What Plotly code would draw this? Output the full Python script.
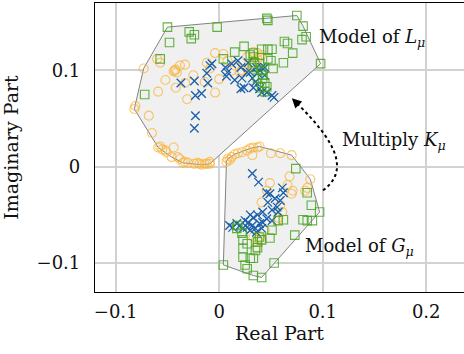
import plotly.graph_objects as go

# ---------------- data: upper group (model of L_mu) ----------------
L_circ_re = [-0.073, -0.060, -0.057, -0.038, -0.033, -0.043, -0.041, -0.042, -0.044, -0.052,
             -0.059, -0.042, -0.033, -0.025, -0.031, -0.014, -0.004, -0.009, -0.012, -0.004,
             0.004, 0.000, -0.081, -0.082, -0.068, -0.065, -0.059, -0.055, -0.057, -0.051,
             -0.052, -0.044, -0.046, -0.040, -0.038, -0.035, -0.033, -0.030, -0.024, -0.021,
             -0.019, -0.017, -0.014, -0.012, -0.009, -0.009, 0.033, 0.041, 0.027, 0.032,
             0.027, 0.022, 0.015, 0.008, 0.037, 0.029, 0.020, 0.012, 0.037, 0.039]
L_circ_im = [0.102, 0.112, 0.108, 0.105, 0.106, 0.100, 0.098, 0.101, 0.099, 0.090,
             0.078, 0.082, 0.087, 0.095, 0.070, 0.088, 0.077, 0.102, 0.108, 0.118,
             0.117, 0.091, 0.063, 0.060, 0.053, 0.035, 0.020, 0.018, 0.021, 0.015,
             0.017, 0.020, 0.010, 0.010, 0.008, 0.004, 0.005, 0.004, 0.003, 0.004,
             0.003, 0.002, 0.003, 0.003, 0.003, 0.005, 0.119, 0.116, 0.114, 0.107,
             0.102, 0.100, 0.105, 0.110, 0.112, 0.107, 0.098, 0.100, 0.118, 0.114]

L_x_re = [-0.037, -0.024, -0.011, -0.012, -0.009, -0.007, -0.023, -0.017, -0.023, -0.024,
          0.006, 0.007, 0.012, 0.015, 0.021, 0.024, 0.021, 0.027, 0.032, 0.035,
          0.037, 0.041, 0.044, 0.036, 0.028, 0.046, 0.051, 0.053, 0.033, 0.018,
          0.039, 0.008, 0.022, 0.041, 0.030, 0.044]
L_x_im = [0.087, 0.089, 0.087, 0.097, 0.105, 0.107, 0.074, 0.076, 0.053, 0.040,
          0.103, 0.094, 0.107, 0.090, 0.081, 0.082, 0.103, 0.098, 0.092, 0.088,
          0.097, 0.103, 0.103, 0.103, 0.108, 0.077, 0.074, 0.072, 0.082, 0.110,
          0.081, 0.098, 0.092, 0.077, 0.098, 0.095]

L_sq_re = [-0.050, -0.029, -0.024, -0.027, -0.048, -0.002, 0.046, 0.047, 0.075, 0.081,
           0.084, 0.080, 0.063, 0.066, 0.071, 0.062, 0.098, 0.024, 0.015, 0.041,
           0.047, 0.051, 0.033, 0.033, 0.050, 0.052, 0.039, 0.004, -0.057, -0.072,
           0.042, 0.044, 0.041, 0.044, 0.046, 0.042, 0.037, 0.041, 0.032, 0.034,
           0.030, 0.047]
L_sq_im = [0.145, 0.140, 0.137, 0.133, 0.129, 0.145, 0.154, 0.152, 0.157, 0.146,
           0.135, 0.132, 0.130, 0.128, 0.118, 0.108, 0.107, 0.125, 0.119, 0.122,
           0.122, 0.122, 0.118, 0.114, 0.110, 0.102, 0.107, 0.112, 0.112, 0.075,
           0.092, 0.087, 0.082, 0.078, 0.083, 0.095, 0.092, 0.100, 0.103, 0.108,
           0.116, 0.112]

# ---------------- data: lower group (model of G_mu) ----------------
G_circ_re = [0.007, 0.008, 0.012, 0.015, 0.018, 0.022, 0.027, 0.030, 0.033, 0.037,
             0.039, 0.032, 0.050, 0.059, 0.070, 0.068, 0.088, 0.066, 0.070, 0.071,
             0.049, 0.046, 0.041, 0.059, 0.061, 0.057, 0.056, 0.044, 0.039, 0.041,
             0.037, 0.036, 0.033, 0.085, 0.083, 0.010]
G_circ_im = [0.005, 0.008, 0.010, 0.013, 0.014, 0.015, 0.017, 0.019, 0.020, 0.020,
             0.021, 0.012, 0.014, 0.014, 0.012, -0.010, -0.013, -0.019, -0.028, -0.025,
             -0.017, -0.025, -0.037, -0.040, -0.047, -0.053, -0.056, -0.066, -0.073, -0.076,
             -0.076, -0.084, -0.073, -0.022, -0.025, 0.007]

G_x_re = [0.032, 0.038, 0.046, 0.049, 0.061, 0.062, 0.054, 0.059, 0.047, 0.056,
          0.051, 0.057, 0.030, 0.033, 0.037, 0.042, 0.046, 0.051, 0.025, 0.010,
          0.013, 0.017, 0.020, 0.027, 0.032, 0.035, 0.039, 0.042, 0.028, 0.023,
          0.030, 0.036, 0.041]
G_x_im = [-0.007, -0.016, -0.027, -0.028, -0.022, -0.027, -0.033, -0.035, -0.037, -0.042,
          -0.045, -0.047, -0.050, -0.053, -0.050, -0.047, -0.054, -0.056, -0.056, -0.061,
          -0.063, -0.059, -0.061, -0.063, -0.061, -0.064, -0.059, -0.058, -0.058, -0.064,
          -0.066, -0.068, -0.064]

G_sq_re = [0.085, 0.089, 0.074, 0.097, 0.090, 0.085, 0.081, 0.073, 0.053, 0.041,
           0.033, 0.027, 0.025, 0.004, 0.023, 0.023, 0.030, 0.033, 0.035, 0.037,
           0.049, 0.051, 0.041, 0.023, 0.027, 0.022, 0.017, 0.018, 0.057, 0.062,
           0.039, 0.037]
G_sq_im = [-0.027, -0.040, -0.002, -0.047, -0.056, -0.056, -0.055, -0.071, -0.100, -0.115,
           -0.113, -0.106, -0.102, -0.102, -0.094, -0.085, -0.095, -0.095, -0.087, -0.084,
           -0.074, -0.066, -0.076, -0.076, -0.080, -0.069, -0.064, -0.061, -0.056, -0.055,
           -0.073, -0.078]

x_ticks = [-0.1, 0, 0.1, 0.2]
x_tick_labels = ["−0.1", "0", "0.1", "0.2"]
y_ticks = [-0.1, 0, 0.1]
y_tick_labels = ["−0.1", "0", "0.1"]

ORANGE = "rgba(250,180,60,0.75)"
BLUE = "rgb(25,95,170)"
GREEN = "rgba(70,165,35,0.85)"
FONT = "DejaVu Serif"


def convex_hull(xs, ys):
    pts = sorted(set(zip(xs, ys)))
    if len(pts) < 3:
        return pts

    def cross(o, a, b):
        return (a[0] - o[0]) * (b[1] - o[1]) - (a[1] - o[1]) * (b[0] - o[0])

    lower, upper = [], []
    for p in pts:
        while len(lower) >= 2 and cross(lower[-2], lower[-1], p) <= 0:
            lower.pop()
        lower.append(p)
    for p in reversed(pts):
        while len(upper) >= 2 and cross(upper[-2], upper[-1], p) <= 0:
            upper.pop()
        upper.append(p)
    return lower[:-1] + upper[:-1]


fig = go.Figure()

for xs_list, ys_list in [((L_circ_re, L_x_re, L_sq_re), (L_circ_im, L_x_im, L_sq_im)),
                         ((G_circ_re, G_x_re, G_sq_re), (G_circ_im, G_x_im, G_sq_im))]:
    ax_ = sum(xs_list, [])
    ay_ = sum(ys_list, [])
    hull = convex_hull(ax_, ay_)
    hx = [p[0] for p in hull] + [hull[0][0]]
    hy = [p[1] for p in hull] + [hull[0][1]]
    fig.add_trace(go.Scatter(x=hx, y=hy, mode="lines", fill="toself",
                             fillcolor="rgb(240,240,240)",
                             line=dict(color="rgb(130,130,130)", width=1),
                             hoverinfo="skip", showlegend=False))

for re, im in [(L_circ_re, L_circ_im), (G_circ_re, G_circ_im)]:
    fig.add_trace(go.Scatter(x=re, y=im, mode="markers", showlegend=False,
                             marker=dict(symbol="circle-open", size=9,
                                         color=ORANGE, line=dict(width=1.1, color=ORANGE))))
for re, im in [(L_x_re, L_x_im), (G_x_re, G_x_im)]:
    fig.add_trace(go.Scatter(x=re, y=im, mode="markers", showlegend=False,
                             marker=dict(symbol="x-thin-open", size=8.5,
                                         color=BLUE, line=dict(width=1.3, color=BLUE))))
for re, im in [(L_sq_re, L_sq_im), (G_sq_re, G_sq_im)]:
    fig.add_trace(go.Scatter(x=re, y=im, mode="markers", showlegend=False,
                             marker=dict(symbol="square-open", size=8.5,
                                         color=GREEN, line=dict(width=1.1, color=GREEN))))

# dotted curved arrow (Multiply K_mu)
fig.add_shape(type="path", xref="x", yref="y",
              path="M 0.1002,-0.0245 C 0.1340,0.0015 0.0973,0.0420 0.0723,0.0690",
              line=dict(color="black", width=2, dash="dot"))
fig.add_annotation(x=0.0702, y=0.0712, xref="x", yref="y", text="", showarrow=True,
                   ax=8, ay=8, arrowhead=2, arrowsize=1.3, arrowwidth=1.5,
                   arrowcolor="black")

txt_font = dict(family=FONT, size=18, color="#111")
fig.add_annotation(x=0.0944, y=0.1333, xref="x", yref="y", xanchor="left", yanchor="middle",
                   text="Model of <i>L</i><sub><i>μ</i></sub>", showarrow=False, font=txt_font)
fig.add_annotation(x=0.1166, y=0.0264, xref="x", yref="y", xanchor="left", yanchor="middle",
                   text="Multiply <i>K</i><sub><i>μ</i></sub>", showarrow=False, font=txt_font)
fig.add_annotation(x=0.081, y=-0.0834, xref="x", yref="y", xanchor="left", yanchor="middle",
                   text="Model of <i>G</i><sub><i>μ</i></sub>", showarrow=False, font=txt_font)

fig.update_layout(
    width=464, height=354,
    margin=dict(l=95, r=0, t=3, b=62, autoexpand=False),
    paper_bgcolor="white", plot_bgcolor="white",
    font=dict(family=FONT, size=18, color="#111"),
    xaxis=dict(range=[-0.12, 0.2365], tickvals=x_ticks, ticktext=x_tick_labels,
               showgrid=True, gridcolor="rgb(210,210,210)", gridwidth=1.5,
               zeroline=False, showline=True, linecolor="black", linewidth=1.2,
               mirror=True, ticks="", ticklabelstandoff=3, automargin=False,
               title=dict(text="Real Part", standoff=4, font=dict(family=FONT, size=19))),
    yaxis=dict(range=[-0.1301, 0.170], tickvals=y_ticks, ticktext=y_tick_labels,
               showgrid=True, gridcolor="rgb(210,210,210)", gridwidth=1.5,
               zeroline=False, showline=True, linecolor="black", linewidth=1.2,
               mirror=False, ticks="", ticklabelstandoff=10, automargin=False,
               title=dict(text="Imaginary Part", standoff=17, font=dict(family=FONT, size=19))),
)

fig.write_html("out.html", config={"displayModeBar": False},
               post_script="document.body.style.margin='0';")
